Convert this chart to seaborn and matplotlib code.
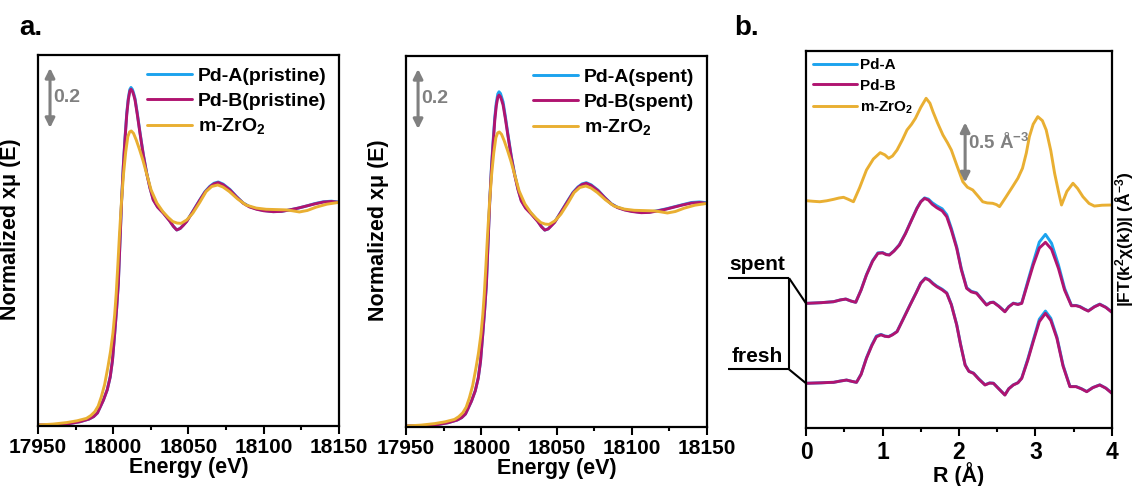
import matplotlib
matplotlib.use("Agg")
import matplotlib.pyplot as plt
import seaborn as sns

# ---------------- data ----------------
# XANES (panel a)
E_pd = [17950, 17960, 17969, 17978, 17984, 17987, 17989.5, 17991, 17993.5, 17996,
        17998, 17999.5, 18001, 18002.3, 18003.4, 18004.5, 18005.6, 18006.7, 18007.8,
        18009, 18010, 18011, 18011.8, 18012.8, 18013.6, 18014.5, 18016, 18017.8, 18020,
        18022.2, 18024.4, 18026.6, 18029.5, 18033.3, 18037.5, 18040, 18042.2, 18044.5,
        18046.5, 18048.8, 18053, 18057.6, 18061, 18064.3, 18067, 18069.8, 18073,
        18077.6, 18082, 18086.4, 18090.5, 18095.3, 18100, 18106.3, 18111.8, 18117.4,
        18123, 18128.5, 18134, 18139.6, 18145, 18150]
pdB_pristine = [0.000, 0.001, 0.003, 0.011, 0.020, 0.028, 0.040, 0.056, 0.083, 0.117,
                0.160, 0.215, 0.306, 0.390, 0.472, 0.610, 0.750, 0.860, 0.950, 1.035,
                1.083, 1.112, 1.119, 1.112, 1.100, 1.083, 1.035, 0.972, 0.900, 0.839,
                0.790, 0.750, 0.726, 0.706, 0.680, 0.662, 0.650, 0.655, 0.665, 0.678,
                0.712, 0.750, 0.776, 0.794, 0.804, 0.808, 0.801, 0.783, 0.760, 0.739,
                0.727, 0.719, 0.714, 0.711, 0.712, 0.717, 0.723, 0.730, 0.737, 0.743,
                0.745, 0.742]
pdA_pristine = [0.000, 0.001, 0.003, 0.011, 0.020, 0.028, 0.040, 0.056, 0.083, 0.117,
                0.160, 0.215, 0.306, 0.390, 0.472, 0.612, 0.752, 0.864, 0.955, 1.040,
                1.088, 1.118, 1.125, 1.118, 1.105, 1.088, 1.039, 0.975, 0.902, 0.841,
                0.791, 0.752, 0.727, 0.707, 0.681, 0.662, 0.650, 0.655, 0.666, 0.679,
                0.713, 0.751, 0.778, 0.796, 0.806, 0.810, 0.803, 0.785, 0.761, 0.740,
                0.728, 0.720, 0.715, 0.711, 0.712, 0.717, 0.723, 0.730, 0.738, 0.744,
                0.746, 0.743]
pdB_spent = [0.000, 0.001, 0.003, 0.011, 0.020, 0.028, 0.040, 0.056, 0.083, 0.117,
             0.160, 0.215, 0.306, 0.390, 0.472, 0.608, 0.745, 0.850, 0.935, 1.020,
             1.068, 1.096, 1.103, 1.097, 1.085, 1.070, 1.025, 0.965, 0.895, 0.836,
             0.788, 0.750, 0.726, 0.706, 0.682, 0.664, 0.653, 0.657, 0.667, 0.679,
             0.713, 0.750, 0.777, 0.795, 0.805, 0.809, 0.802, 0.784, 0.761, 0.740,
             0.728, 0.720, 0.715, 0.711, 0.712, 0.717, 0.723, 0.730, 0.737, 0.743,
             0.745, 0.742]
pdA_spent = [0.000, 0.001, 0.003, 0.011, 0.020, 0.028, 0.040, 0.056, 0.083, 0.117,
             0.160, 0.215, 0.306, 0.390, 0.472, 0.610, 0.748, 0.858, 0.945, 1.030,
             1.078, 1.107, 1.114, 1.108, 1.095, 1.080, 1.032, 0.970, 0.898, 0.840,
             0.790, 0.752, 0.728, 0.708, 0.683, 0.665, 0.653, 0.657, 0.668, 0.680,
             0.714, 0.752, 0.779, 0.797, 0.807, 0.811, 0.804, 0.786, 0.762, 0.741,
             0.729, 0.721, 0.716, 0.712, 0.713, 0.718, 0.724, 0.731, 0.738, 0.745,
             0.747, 0.744]
E_zro2 = [17950, 17960, 17969, 17976, 17982.2, 17985, 17987.7, 17990, 17992.1, 17994.3,
          17996.5, 17998.2, 17999.8, 18001, 18002, 18003.1, 18004.2, 18005.5, 18006.9,
          18008.3, 18009.7, 18010.9, 18012, 18013.5, 18015.3, 18017.5, 18019.7, 18022.5,
          18025.2, 18029, 18033, 18036.5, 18039.6, 18042.5, 18045.1, 18049, 18052.9,
          18057.5, 18061.7, 18065.5, 18069.5, 18073, 18077.2, 18082.5, 18088.3, 18095,
          18101.6, 18108, 18114.8, 18119, 18123.7, 18129, 18134.8, 18142, 18150]
zro2_xanes = [0.000, 0.003, 0.008, 0.014, 0.022, 0.031, 0.044, 0.063, 0.094, 0.135,
              0.194, 0.245, 0.306, 0.370, 0.439, 0.535, 0.639, 0.745, 0.839, 0.910,
              0.961, 0.977, 0.980, 0.972, 0.950, 0.918, 0.883, 0.832, 0.783, 0.740,
              0.711, 0.692, 0.678, 0.673, 0.672, 0.684, 0.706, 0.742, 0.778, 0.795,
              0.800, 0.793, 0.778, 0.754, 0.733, 0.723, 0.719, 0.718, 0.717, 0.714,
              0.710, 0.715, 0.726, 0.736, 0.742]

# FT-EXAFS (panel b)
R_fresh = [0.00, 0.10, 0.20, 0.30, 0.36, 0.45, 0.53, 0.60, 0.66, 0.72, 0.79, 0.86, 0.92,
           0.98, 1.03, 1.08, 1.13, 1.19, 1.27, 1.36, 1.44, 1.50, 1.56, 1.61, 1.66, 1.71,
           1.78, 1.84, 1.90, 1.97, 2.02, 2.08, 2.13, 2.19, 2.26, 2.34, 2.40, 2.45, 2.52,
           2.60, 2.65, 2.71, 2.77, 2.82, 2.90, 2.97, 3.05, 3.13, 3.20, 3.28, 3.36, 3.45,
           3.53, 3.60, 3.67, 3.75, 3.84, 3.92, 4.00]
fresh_B = [0.126, 0.128, 0.130, 0.133, 0.134, 0.145, 0.153, 0.142, 0.134, 0.200, 0.334,
           0.440, 0.514, 0.530, 0.518, 0.514, 0.530, 0.556, 0.660, 0.778, 0.880, 0.960,
           1.001, 0.985, 0.955, 0.931, 0.905, 0.876, 0.780, 0.612, 0.450, 0.278, 0.225,
           0.209, 0.160, 0.112, 0.128, 0.126, 0.080, 0.028, 0.080, 0.112, 0.130, 0.167,
           0.320, 0.473, 0.640, 0.709, 0.650, 0.501, 0.270, 0.098, 0.098, 0.080, 0.056,
           0.090, 0.112, 0.085, 0.042]
fresh_A = [0.126, 0.128, 0.130, 0.133, 0.134, 0.145, 0.153, 0.142, 0.134, 0.202, 0.338,
           0.446, 0.520, 0.534, 0.520, 0.516, 0.532, 0.558, 0.662, 0.780, 0.882, 0.963,
           1.004, 0.989, 0.960, 0.936, 0.910, 0.880, 0.784, 0.615, 0.453, 0.280, 0.227,
           0.211, 0.162, 0.114, 0.129, 0.127, 0.081, 0.030, 0.081, 0.113, 0.131, 0.170,
           0.330, 0.485, 0.660, 0.728, 0.668, 0.512, 0.278, 0.100, 0.099, 0.081, 0.058,
           0.091, 0.113, 0.086, 0.044]
R_spent = [0.00, 0.10, 0.20, 0.30, 0.36, 0.45, 0.52, 0.59, 0.65, 0.72, 0.79, 0.87, 0.94,
           1.00, 1.05, 1.09, 1.15, 1.22, 1.30, 1.37, 1.45, 1.50, 1.55, 1.60, 1.65, 1.71,
           1.78, 1.84, 1.90, 1.97, 2.03, 2.10, 2.16, 2.23, 2.30, 2.36, 2.41, 2.45, 2.52,
           2.60, 2.65, 2.71, 2.77, 2.82, 2.90, 2.97, 3.05, 3.13, 3.21, 3.30, 3.38, 3.47,
           3.53, 3.58, 3.64, 3.69, 3.77, 3.84, 3.92, 4.00]
spent_B = [0.109, 0.112, 0.115, 0.120, 0.123, 0.138, 0.145, 0.128, 0.118, 0.220, 0.345,
           0.460, 0.526, 0.530, 0.515, 0.512, 0.545, 0.595, 0.690, 0.789, 0.900, 0.955,
           0.984, 0.970, 0.935, 0.906, 0.880, 0.831, 0.720, 0.568, 0.390, 0.234, 0.205,
           0.193, 0.140, 0.095, 0.115, 0.118, 0.085, 0.039, 0.080, 0.109, 0.100, 0.109,
           0.280, 0.428, 0.570, 0.618, 0.560, 0.401, 0.220, 0.089, 0.090, 0.081, 0.060,
           0.045, 0.080, 0.101, 0.075, 0.034]
spent_A = [0.109, 0.112, 0.115, 0.120, 0.123, 0.138, 0.145, 0.128, 0.118, 0.222, 0.348,
           0.465, 0.530, 0.533, 0.517, 0.514, 0.547, 0.598, 0.693, 0.792, 0.903, 0.958,
           0.988, 0.978, 0.948, 0.922, 0.897, 0.848, 0.735, 0.580, 0.400, 0.240, 0.210,
           0.197, 0.143, 0.097, 0.117, 0.120, 0.087, 0.041, 0.082, 0.111, 0.102, 0.113,
           0.295, 0.450, 0.620, 0.684, 0.610, 0.430, 0.235, 0.092, 0.092, 0.083, 0.062,
           0.047, 0.082, 0.103, 0.077, 0.036]
R_zro2 = [0.00, 0.09, 0.18, 0.27, 0.36, 0.43, 0.49, 0.55, 0.62, 0.70, 0.79, 0.88, 0.97,
          1.03, 1.08, 1.13, 1.19, 1.26, 1.32, 1.38, 1.43, 1.50, 1.57, 1.62, 1.66, 1.72,
          1.79, 1.85, 1.90, 1.97, 2.05, 2.11, 2.18, 2.25, 2.31, 2.37, 2.44, 2.49, 2.53,
          2.61, 2.70, 2.77, 2.83, 2.88, 2.92, 2.97, 3.03, 3.09, 3.14, 3.20, 3.25, 3.30,
          3.34, 3.41, 3.49, 3.55, 3.62, 3.70, 3.77, 3.87, 4.00]
zro2_ft = [0.123, 0.118, 0.114, 0.122, 0.134, 0.145, 0.151, 0.135, 0.114, 0.230, 0.378,
           0.470, 0.523, 0.505, 0.476, 0.495, 0.545, 0.630, 0.712, 0.760, 0.809, 0.900,
           0.976, 0.935, 0.864, 0.770, 0.670, 0.605, 0.545, 0.420, 0.281, 0.235, 0.212,
           0.160, 0.114, 0.104, 0.101, 0.090, 0.073, 0.150, 0.239, 0.310, 0.393, 0.520,
           0.656, 0.760, 0.823, 0.790, 0.712, 0.540, 0.351, 0.200, 0.087, 0.200, 0.268,
           0.225, 0.156, 0.100, 0.078, 0.085, 0.087]
offset_fresh = 0.0
offset_spent = 0.683
offset_zro2 = 1.525

labels_a1 = ["Pd-A(pristine)", "Pd-B(pristine)", "m-ZrO$_2$"]
labels_a2 = ["Pd-A(spent)", "Pd-B(spent)", "m-ZrO$_2$"]
labels_b = ["Pd-A", "Pd-B", "m-ZrO$_2$"]
xticks_E = [17950, 18000, 18050, 18100, 18150]
xticks_R = [0, 1, 2, 3, 4]

# ---------------- style ----------------
sns.set_style("white")
plt.rcParams['font.family'] = ['Liberation Sans', 'DejaVu Sans']
plt.rcParams['font.weight'] = 'bold'
plt.rcParams['axes.labelweight'] = 'bold'
plt.rcParams['text.color'] = 'black'
plt.rcParams['axes.labelcolor'] = 'black'
plt.rcParams['xtick.color'] = 'black'
plt.rcParams['ytick.color'] = 'black'
plt.rcParams['mathtext.fontset'] = 'custom'
plt.rcParams['mathtext.rm'] = 'Liberation Sans:bold'
plt.rcParams['mathtext.it'] = 'Liberation Sans:bold'
plt.rcParams['mathtext.bf'] = 'Liberation Sans:bold'

C_A = '#1CA3EE'
C_B = '#B01470'
C_Z = '#E9AF32'
GRAY = '#808080'
LW = 2.1

fig = plt.figure(figsize=(11.37, 4.86), dpi=100)
ax1 = fig.add_axes([0.0334, 0.1235, 0.2647, 0.7634])
ax2 = fig.add_axes([0.3571, 0.1214, 0.2647, 0.7634])
ax3 = fig.add_axes([0.7089, 0.1193, 0.2691, 0.7757])


def style_axes(ax, xticks, minor, fs):
    for s in ax.spines.values():
        s.set_visible(True)
        s.set_color('black')
        s.set_linewidth(1.6)
    ax.set_xticks(xticks)
    ax.set_xticks(minor, minor=True)
    ax.set_yticks([])
    ax.tick_params(axis='x', which='major', direction='out', length=6, width=1.5,
                   bottom=True, labelsize=fs, pad=3, colors='black')
    ax.tick_params(axis='x', which='minor', direction='out', length=3, width=1.5,
                   bottom=True)
    for t in ax.get_xticklabels():
        t.set_fontweight('bold')


def xanes(ax, a, b, labels):
    sns.lineplot(x=E_pd, y=a, ax=ax, color=C_A, lw=LW, label=labels[0], sort=False,
                 estimator=None)
    sns.lineplot(x=E_pd, y=b, ax=ax, color=C_B, lw=LW, label=labels[1], sort=False,
                 estimator=None)
    sns.lineplot(x=E_zro2, y=zro2_xanes, ax=ax, color=C_Z, lw=LW, label=labels[2],
                 sort=False, estimator=None)
    ax.set_xlim(17950, 18150)
    ax.set_ylim(-0.0033, 1.2333)
    style_axes(ax, xticks_E, [17975, 18025, 18075, 18125], 15)
    ax.set_xlabel("Energy (eV)", fontsize=15.5, fontweight='bold', labelpad=0)
    ax.set_ylabel("Normalized x\u03bc (E)", fontsize=15.5, fontweight='bold')
    ax.yaxis.set_label_coords(-0.055, 0.53)
    ax.legend(loc='upper right', frameon=False, fontsize=14, handlelength=2.3,
              handletextpad=0.3, labelspacing=0.35, borderaxespad=0.2, borderpad=0.45)
    ax.annotate('', xy=(17958, 1.19), xytext=(17958, 0.99),
                arrowprops=dict(arrowstyle='<|-|>', color=GRAY, lw=2.2,
                                mutation_scale=14, shrinkA=0, shrinkB=0))
    ax.text(17960, 1.09, "0.2", color=GRAY, fontsize=14, fontweight='bold',
            ha='left', va='center')


xanes(ax1, pdA_pristine, pdB_pristine, labels_a1)
xanes(ax2, pdA_spent, pdB_spent, labels_a2)

# Panel b
fA = [v + offset_fresh for v in fresh_A]
fB = [v + offset_fresh for v in fresh_B]
sA = [v + offset_spent for v in spent_A]
sB = [v + offset_spent for v in spent_B]
zz = [v + offset_zro2 for v in zro2_ft]
sns.lineplot(x=R_spent, y=sA, ax=ax3, color=C_A, lw=LW, label=labels_b[0], sort=False,
             estimator=None)
sns.lineplot(x=R_spent, y=sB, ax=ax3, color=C_B, lw=LW, label=labels_b[1], sort=False,
             estimator=None)
sns.lineplot(x=R_zro2, y=zz, ax=ax3, color=C_Z, lw=LW, label=labels_b[2], sort=False,
             estimator=None)
sns.lineplot(x=R_fresh, y=fA, ax=ax3, color=C_A, lw=LW, sort=False, estimator=None,
             legend=False)
sns.lineplot(x=R_fresh, y=fB, ax=ax3, color=C_B, lw=LW, sort=False, estimator=None,
             legend=False)
ax3.set_xlim(0, 4)
ax3.set_ylim(-0.2467, 2.895)
style_axes(ax3, xticks_R, [0.5, 1.5, 2.5, 3.5], 16.5)
ax3.set_xlabel("R (\u00c5)", fontsize=15.5, fontweight='bold', labelpad=-1)
ax3.yaxis.set_label_position('right')
ax3.set_ylabel("|FT(k$^2$\u03c7(k))| (\u00c5$^{-3}$)", fontsize=12.5, fontweight='bold',
               labelpad=1, rotation=90)
ax3.legend(loc='upper left', frameon=False, fontsize=11, handlelength=2.9,
           handletextpad=0.2, labelspacing=0.45, borderaxespad=0.1, borderpad=0.35)
ax3.annotate('', xy=(2.08, 2.30), xytext=(2.08, 1.80),
             arrowprops=dict(arrowstyle='<|-|>', color=GRAY, lw=2.2,
                             mutation_scale=14, shrinkA=0, shrinkB=0))
ax3.text(2.12, 2.13, "0.5 \u00c5$^{-3}$", color=GRAY, fontsize=13.5, fontweight='bold',
         ha='left', va='center')

# spent / fresh callouts
x_lab0, x_lab1 = -1.02, -0.222
y_sp = offset_spent + 0.32
y_fr = offset_fresh + 0.242
kw = dict(color='black', lw=1.5, clip_on=False, solid_capstyle='butt')
ax3.plot([x_lab0, x_lab1], [y_sp, y_sp], **kw)
ax3.plot([x_lab1, 0], [y_sp, offset_spent + spent_B[0]], **kw)
ax3.plot([x_lab0, x_lab1], [y_fr, y_fr], **kw)
ax3.plot([x_lab1, 0], [y_fr, offset_fresh + fresh_B[0]], **kw)
ax3.plot([x_lab1, x_lab1], [y_sp, y_fr], **kw)
ax3.text((x_lab0 + x_lab1) / 2 - 0.02, y_sp + 0.03, "spent", fontsize=15,
         fontweight='bold', ha='center', va='bottom', clip_on=False)
ax3.text((x_lab0 + x_lab1) / 2 - 0.02, y_fr + 0.03, "fresh", fontsize=15,
         fontweight='bold', ha='center', va='bottom', clip_on=False)

fig.text(0.017, 0.942, "a.", fontsize=20, fontweight='bold', ha='left', va='center')
fig.text(0.646, 0.942, "b.", fontsize=20, fontweight='bold', ha='left', va='center')

fig.savefig("out.png", dpi=100)
